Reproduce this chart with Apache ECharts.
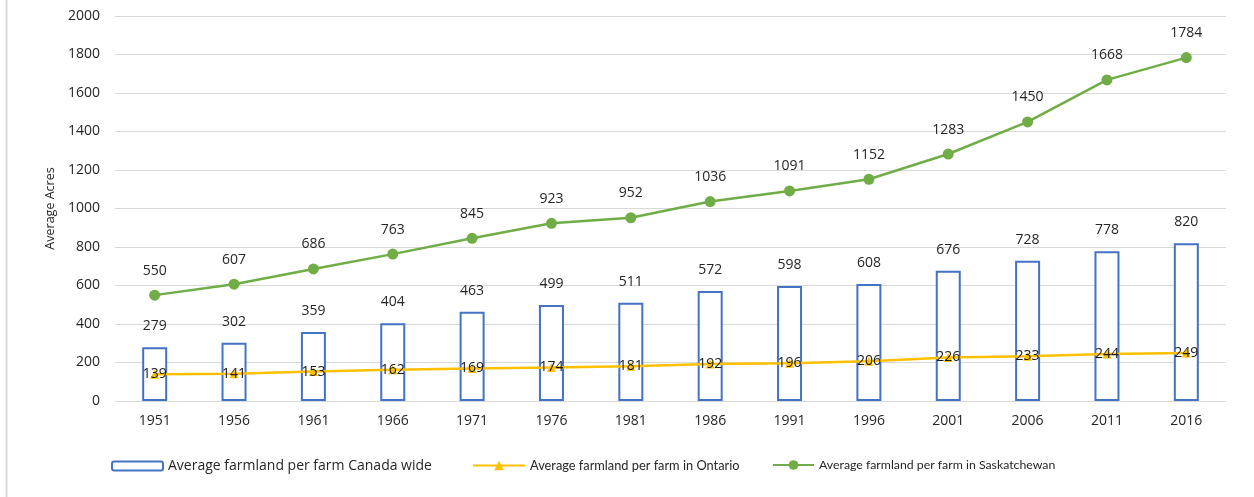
<!DOCTYPE html>
<html>
<head>
<meta charset="utf-8">
<script src="https://cdn.jsdelivr.net/npm/echarts@6/dist/echarts.min.js"></script>
<style>
  html, body { margin: 0; padding: 0; background: #fff; }
  #chart { width: 1254px; height: 497px; }
</style>
</head>
<body>
<div id="chart"></div>
<script>
// Census years
const years = ['1951', '1956', '1961', '1966', '1971', '1976', '1981', '1986', '1991', '1996', '2001', '2006', '2011', '2016'];
// Average farmland per farm (acres)
const canadaWide = [279, 302, 359, 404, 463, 499, 511, 572, 598, 608, 676, 728, 778, 820];
const ontario = [139, 141, 153, 162, 169, 174, 181, 192, 196, 206, 226, 233, 244, 249];
const saskatchewan = [550, 607, 686, 763, 845, 923, 952, 1036, 1091, 1152, 1283, 1450, 1668, 1784];

const seriesNames = [
  'Average farmland per farm Canada wide',
  'Average farmland per farm in Ontario',
  'Average farmland per farm in Saskatchewan'
];

const FONT = '"Open Sans", "Liberation Sans", sans-serif';
const NARROW = 'Lato, "Open Sans", sans-serif';
const TEXT = '#262626';

const chart = echarts.init(document.getElementById('chart'), null, { renderer: 'canvas' });

function legendAt(name, left, width, height, family, size) {
  return {
    data: [name],
    left: left,
    top: 459,
    padding: 0,
    itemWidth: width,
    itemHeight: height,
    textStyle: { fontFamily: family, fontSize: size, color: TEXT },
    selectedMode: false
  };
}

chart.setOption({
  animation: false,
  backgroundColor: '#fff',
  graphic: [{
    type: 'line',
    shape: { x1: 6.5, y1: 0, x2: 6.5, y2: 497 },
    style: { stroke: '#d9d9d9', lineWidth: 2 }
  }],
  grid: { left: 115, right: 28, top: 16, bottom: 96, containLabel: false },
  legend: [
    legendAt(seriesNames[0], 111, 51, 9, FONT, 14),
    legendAt(seriesNames[1], 472, 52, 12, NARROW, 12.8),
    legendAt(seriesNames[2], 772, 41, 12, NARROW, 12.3)
  ],
  xAxis: {
    type: 'category',
    data: years,
    axisLine: { show: false },
    axisTick: { show: false },
    axisLabel: { fontFamily: FONT, fontSize: 14, color: TEXT, margin: 13 }
  },
  yAxis: {
    type: 'value',
    min: 0,
    max: 2000,
    interval: 200,
    name: 'Average Acres',
    nameLocation: 'middle',
    nameGap: 58,
    nameTextStyle: { fontFamily: FONT, fontSize: 12.5, color: TEXT },
    axisLine: { show: false },
    axisTick: { show: false },
    axisLabel: {
      fontFamily: FONT, fontSize: 14, color: TEXT, margin: 15,
      formatter: function (v) { return String(v); }
    },
    splitLine: { lineStyle: { color: '#d9d9d9', width: 1 } }
  },
  series: [
    {
      name: seriesNames[0],
      type: 'bar',
      data: canadaWide,
      barWidth: 25,
      itemStyle: { color: '#ffffff', borderColor: '#4472C4', borderWidth: 2 },
      label: {
        show: true,
        position: 'top',
        distance: 14,
        fontFamily: FONT,
        fontSize: 14,
        color: TEXT
      },
      z: 1
    },
    {
      name: seriesNames[1],
      type: 'line',
      data: ontario,
      symbol: 'triangle',
      symbolSize: 9,
      lineStyle: { color: '#FFC000', width: 2.5 },
      itemStyle: { color: '#FFC000' },
      label: {
        show: true,
        position: 'inside',
        fontFamily: FONT,
        fontSize: 14,
        color: '#1a1a1a'
      },
      z: 3
    },
    {
      name: seriesNames[2],
      type: 'line',
      data: saskatchewan,
      symbol: 'circle',
      symbolSize: 11,
      lineStyle: { color: '#70AD47', width: 2.5 },
      itemStyle: { color: '#70AD47' },
      label: {
        show: true,
        position: 'top',
        distance: 12,
        fontFamily: FONT,
        fontSize: 14,
        color: TEXT
      },
      z: 3
    }
  ]
});
</script>
</body>
</html>
